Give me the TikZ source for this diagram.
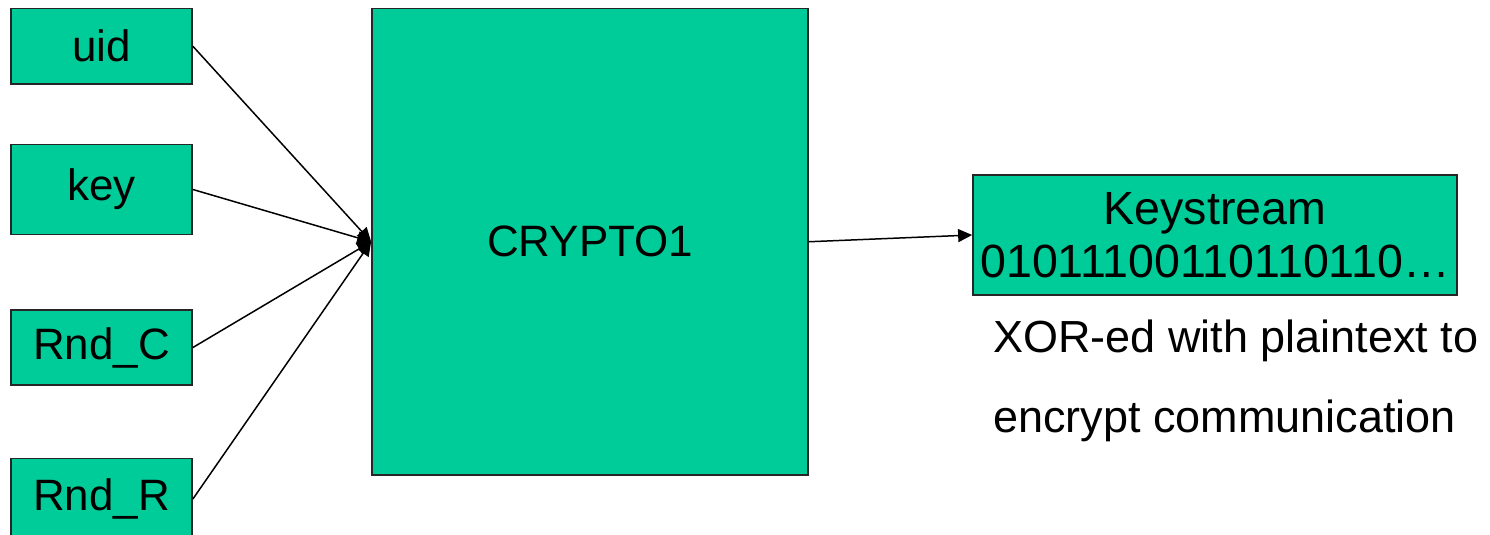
\documentclass[tikz,border=0pt]{standalone}
\usepackage{fontspec}
\setmainfont{Liberation Sans}
\usepackage{tikz}
\usetikzlibrary{arrows.meta}
\definecolor{cryptogreen}{RGB}{0, 204, 153}

\begin{document}
\begin{tikzpicture}[
        block/.style={draw=black!85, line width=1pt, fill=cryptogreen, inner sep=0pt, align=center, font=\fontsize{25}{31}\selectfont},
        inbox/.style={block, minimum width=3.62cm, minimum height=1.51cm},
        feed/.style={line width=0.85pt, -{Triangle[length=0.28cm, width=0.26cm]}}
    ]
            \pgfmathsetmacro{\inCol}{2.03}
            \pgfmathsetmacro{\cipherCol}{11.8}
            \pgfmathsetmacro{\outCol}{24.3}

            \useasboundingbox (0, 0) rectangle (29.8, 10.68);

            % the four inputs on the left
            \node[inbox] (uid) at (\inCol, 9.755) {uid};
            \node[inbox, minimum height=1.8cm] (key) at (\inCol, 6.89) {key};
            \node[inbox] (rndc) at (\inCol, 3.73) {Rnd\_C};
            \node[inbox, minimum height=1.62cm] (rndr) at (\inCol, 0.7) {Rnd\_R};

            % the cipher itself
            \node[block, minimum width=8.72cm, minimum height=9.33cm] (crypto) at (\cipherCol, 5.845) {CRYPTO1};

            % all inputs go into the cipher
            \foreach \n in {uid, key, rndc, rndr}
            \draw[feed] (\n.east) -- (crypto.west);

            % output stream
            \node[block, minimum width=9.68cm, minimum height=2.4cm, font=\fontsize{26.5}{31.5}\selectfont] (stream) at (\outCol, 5.98) {Keystream\\[-0.05cm]01011100110110110\dots};
            \draw[feed] (crypto.east) -- (stream.west);

            % note below the stream, anchored on its last line
            \node[anchor=base west, inner sep=0pt, align=left, font=\fontsize{25.6}{45.5}\selectfont] (note) at (19.86, 2.04) {XOR-ed with plaintext to\\encrypt communication};

\end{tikzpicture}
\end{document}
